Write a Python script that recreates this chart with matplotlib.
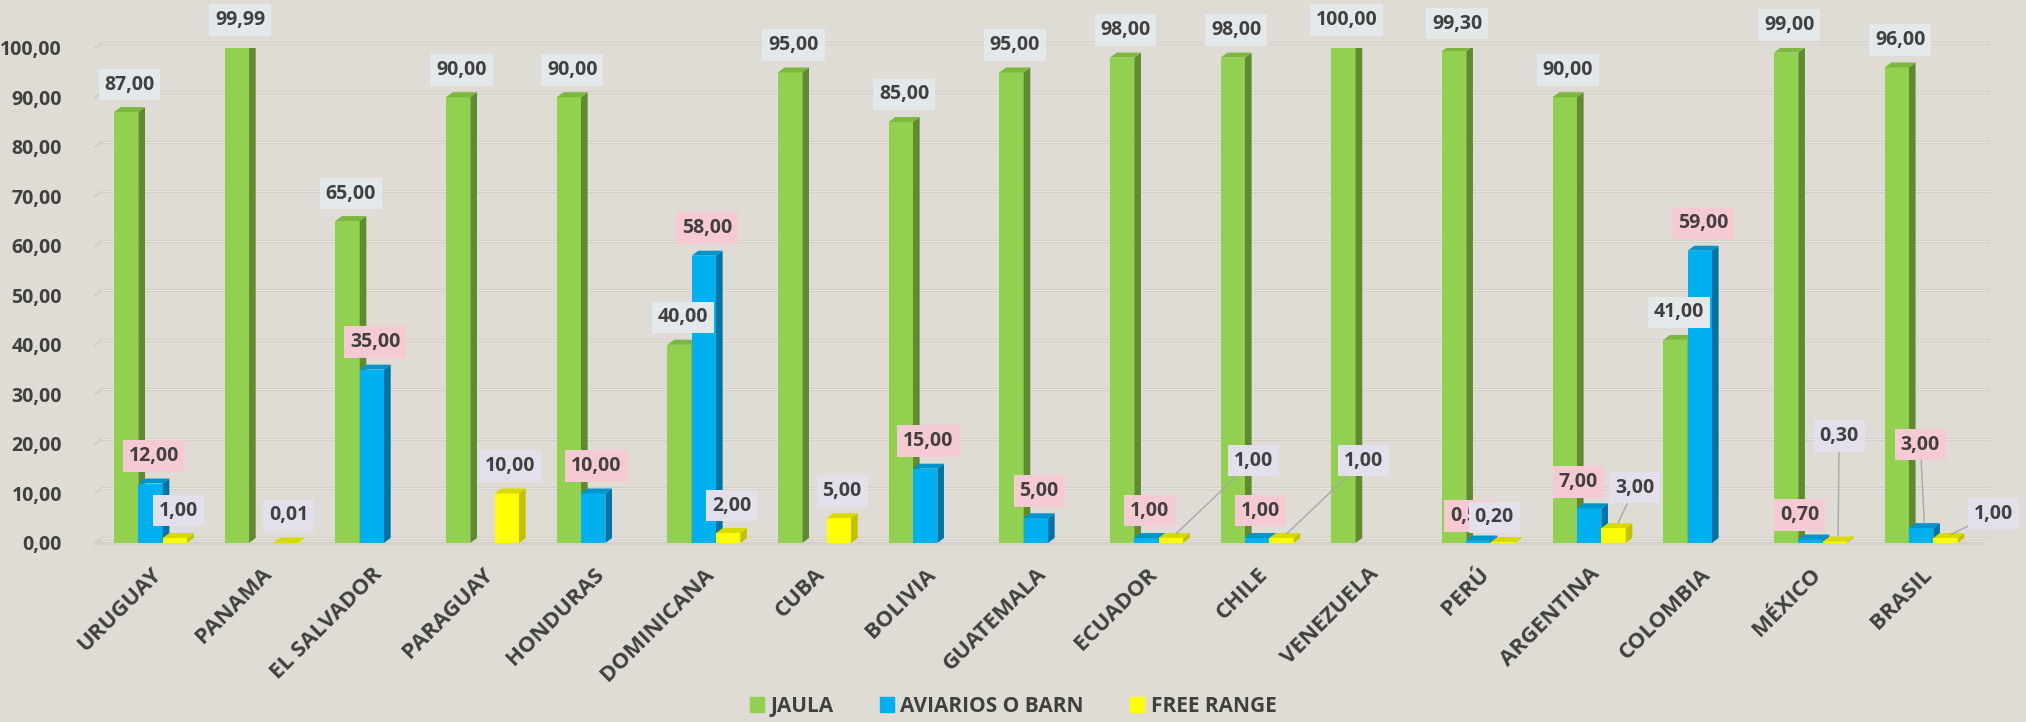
#!/usr/bin/env python3

import numpy as np
import matplotlib.pyplot as plt
from matplotlib.patches import Polygon, Rectangle
from matplotlib.transforms import ScaledTranslation

# data (nan = no value shown)
countries = ["URUGUAY", "PANAMA", "EL SALVADOR", "PARAGUAY", "HONDURAS", "DOMINICANA",
             "CUBA", "BOLIVIA", "GUATEMALA", "ECUADOR", "CHILE", "VENEZUELA", "PERÚ",
             "ARGENTINA", "COLOMBIA", "MÉXICO", "BRASIL"]
jaula = [87.00, 99.99, 65.00, 90.00, 90.00, 40.00, 95.00, 85.00, 95.00, 98.00, 98.00,
         100.00, 99.30, 90.00, 41.00, 99.00, 96.00]
aviarios = [12.00, np.nan, 35.00, np.nan, 10.00, 58.00, np.nan, 15.00, 5.00, 1.00, 1.00,
            np.nan, 0.50, 7.00, 59.00, 0.70, 3.00]
free_range = [1.00, 0.01, np.nan, 10.00, np.nan, 2.00, 5.00, np.nan, np.nan, 1.00, 1.00,
              np.nan, 0.20, 3.00, np.nan, 0.30, 1.00]

BG = "#dfdcd5"
TXT = "#404040"
FONT = ["Open Sans", "DejaVu Sans"]

series = [
  ("JAULA", jaula, "#92d050", "#5f8a30", "#7cb83e", "#e3e8ea"),
  ("AVIARIOS O BARN", aviarios, "#00b0f0", "#0074a6", "#0094cc", "#f6cad3"),
  ("FREE RANGE", free_range, "#ffff00", "#c2c200", "#d9d900", "#e3e0ec"),
]

# label offsets in pixels (dx, dy) for labels that do not sit right on top of the bar
custom = {
  (2, 9): (79, 75), (2, 10): (79, 75),
  (1, 12): (-12, 22), (2, 12): (-12, 22),
  (1, 13): (-14, 24), (2, 13): (18, 38),
  (1, 15): (-14, 22), (2, 15): (1, 103),
  (1, 16): (-4, 81), (2, 16): (45, 22),
}

plt.rcParams['font.family'] = FONT
plt.rcParams['font.weight'] = 'bold'

fig = plt.figure(figsize=(20.26, 7.22), dpi=100, facecolor=BG)
ax = fig.add_axes([0.047, 0.248, 0.934, 0.686], facecolor=BG)

x = np.arange(len(countries))
w = 0.22
dx, dy = 0.06, 1.0
ax.set_xlim(-0.5, 16.6)
ax.set_ylim(0, 100)

# back-wall grid with a little perspective at the left
for t in np.arange(0, 101, 10):
  ax.plot([-0.5 + dx, 16.6], [t + dy, t + dy], color="#d3cfc8", lw=2.2, zorder=0.5, clip_on=False)
  ax.plot([-0.5 + dx, 16.6], [t + dy, t + dy], color="#e8e6e1", lw=0.8, zorder=0.6, clip_on=False)
  ax.plot([-0.5, -0.5 + dx], [t, t + dy], color="#d3cfc8", lw=1.5, zorder=0.5, clip_on=False)
ax.plot([-0.5, 16.55], [0, 0], color="#d6d2cb", lw=2.5, zorder=0.5, clip_on=False)

for si, (name, vals, front, side, top, boxc) in enumerate(series):
  xs = x + (si - 1) * w
  ax.bar(xs, vals, width=w, color=front, edgecolor="none", zorder=3, label=name)
  for i, v in enumerate(vals):
    if np.isnan(v):
      continue
    x0, x1 = xs[i] - w / 2, xs[i] + w / 2
    ax.add_patch(Polygon([(x1, 0), (x1 + dx, dy), (x1 + dx, v + dy), (x1, v)],
                         closed=True, color=side, lw=0, zorder=3))
    ax.add_patch(Polygon([(x0, v), (x1, v), (x1 + dx, v + dy), (x0 + dx, v + dy)],
                         closed=True, color=top, lw=0, zorder=3))
    ox, oy = custom.get((si, i), (0, 25))
    lbl = f"{v:.2f}".replace(".", ",")
    arrow = None
    if (si, i) in custom and (abs(ox) > 15 or oy > 40):
      arrow = dict(arrowstyle="-", color="#a8a8a8", lw=1.0, shrinkA=0, shrinkB=2)
    ax.annotate(lbl, xy=(xs[i] + dx / 2, v + dy / 2), xytext=(ox, oy),
                textcoords="offset pixels", ha="center", va="center",
                fontsize=14, fontweight="bold", color=TXT, zorder=6 + si,
                bbox=dict(boxstyle="square,pad=0.3", fc=boxc, ec="none"),
                arrowprops=arrow, annotation_clip=False)

ax.set_xticks(x)
ax.set_xticklabels(countries, rotation=45, ha="right", rotation_mode="anchor",
                   fontsize=16, fontweight="bold", color=TXT)
shift = ScaledTranslation(0.12, 0, fig.dpi_scale_trans)
for lab in ax.get_xticklabels():
  lab.set_transform(lab.get_transform() + shift)
ax.set_yticks(np.arange(0, 101, 10))
ax.set_yticklabels([f"{t:.2f}".replace(".", ",") for t in np.arange(0, 101, 10)],
                   fontsize=14, fontweight="bold", color=TXT)
ax.tick_params(axis="both", length=0)
ax.tick_params(axis="x", pad=15)
ax.tick_params(axis="y", pad=24)
for s in ax.spines.values():
  s.set_visible(False)

handles = [Rectangle((0, 0), 1, 1, color=c[2]) for c in series]
fig.legend(handles, [c[0] for c in series], loc="center", bbox_to_anchor=(0.5, 0.022),
           ncol=3, frameon=False, handlelength=0.7, handleheight=0.7, handletextpad=0.3,
           columnspacing=2.2, prop=dict(size=15, weight="bold", family=FONT),
           labelcolor=TXT)

fig.savefig("out.png", dpi=100, facecolor=BG)
